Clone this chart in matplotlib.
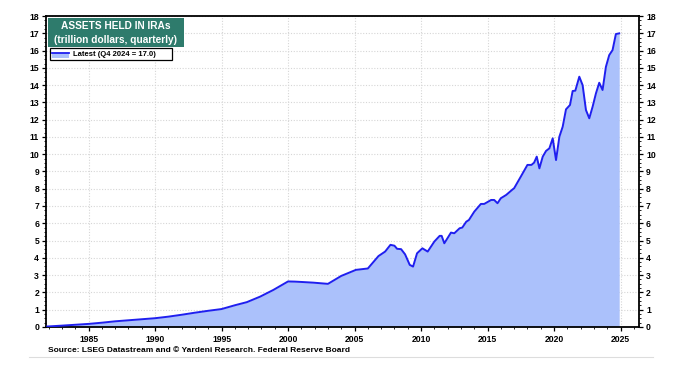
import matplotlib
matplotlib.use("Agg")
import matplotlib.pyplot as plt
from matplotlib.ticker import MultipleLocator
from matplotlib.lines import Line2D
from matplotlib.patches import Rectangle

# decimal year / trillion dollars
years = [
    1981.9, 1983.0, 1984.0, 1985.0, 1986.0, 1987.0, 1988.0, 1989.0, 1990.0,
    1991.0, 1992.0, 1993.0, 1994.0, 1995.0, 1996.0, 1996.9, 1997.9, 1998.9,
    2000.0, 2000.5, 2001.0, 2001.9, 2003.0, 2004.0, 2005.1, 2006.0, 2006.8,
    2007.3, 2007.7, 2008.0, 2008.2, 2008.5, 2008.8, 2009.15, 2009.4, 2009.7,
    2010.1, 2010.5, 2011.0, 2011.4, 2011.55, 2011.75, 2012.25, 2012.5, 2012.9,
    2013.1, 2013.4, 2013.6, 2014.0, 2014.5, 2014.75, 2015.27, 2015.5, 2015.75,
    2016.0, 2016.4, 2016.9, 2017.0, 2017.5, 2018.0, 2018.3, 2018.5, 2018.7,
    2018.9, 2019.15, 2019.4, 2019.65, 2019.9, 2020.15, 2020.4, 2020.65, 2020.9,
    2021.2, 2021.4, 2021.6, 2021.9, 2022.15, 2022.4, 2022.65, 2022.9, 2023.15,
    2023.4, 2023.65, 2023.9, 2024.15, 2024.4, 2024.65, 2024.9,
]
assets = [
    0.02, 0.07, 0.12, 0.17, 0.24, 0.32, 0.38, 0.44, 0.50,
    0.59, 0.70, 0.82, 0.93, 1.03, 1.25, 1.43, 1.75, 2.14,
    2.63, 2.62, 2.60, 2.56, 2.49, 2.95, 3.30, 3.38, 4.10,
    4.36, 4.75, 4.70, 4.52, 4.50, 4.20, 3.59, 3.49, 4.26,
    4.55, 4.36, 4.94, 5.27, 5.27, 4.84, 5.46, 5.42, 5.71,
    5.75, 6.09, 6.19, 6.67, 7.12, 7.12, 7.35, 7.35, 7.16,
    7.45, 7.64, 7.97, 8.03, 8.70, 9.38, 9.38, 9.51, 9.86,
    9.18, 9.86, 10.19, 10.34, 10.92, 9.66, 11.01, 11.59, 12.60,
    12.85, 13.66, 13.68, 14.49, 14.00, 12.56, 12.08, 12.75, 13.52,
    14.14, 13.72, 15.06, 15.74, 16.03, 16.96, 17.00,
]

LINE = "#1f1fef"
FILL = "#abc1fb"
TEAL = "#2e7b6c"
FONT = "Liberation Sans"

plt.rcParams["font.family"] = FONT

fig = plt.figure(figsize=(6.97, 3.66), dpi=100)
ax = fig.add_axes([0.066, 0.107, 0.851, 0.849])

ax.fill_between(years, assets, 0, color=FILL, lw=0, zorder=2)
ax.plot(years, assets, color=LINE, lw=1.4, zorder=3)

ax.set_xlim(1981.8, 2026.4)
ax.set_ylim(0, 18)
ax.xaxis.set_major_locator(MultipleLocator(5))
ax.xaxis.set_minor_locator(MultipleLocator(1))
ax.yaxis.set_major_locator(MultipleLocator(1))
ax.yaxis.set_minor_locator(MultipleLocator(0.25))
ax.grid(True, which="major", color="#d6d6d6", ls=(0, (1, 1.5)), lw=0.8, zorder=1)

ax.tick_params(axis="both", which="major", labelsize=6.2, width=0.9, length=3,
               direction="out", right=True, labelright=True, pad=2)
ax.tick_params(axis="both", which="minor", width=0.6, length=1.6,
               direction="out", right=True)
ax.tick_params(axis="x", pad=3)
for lab in ax.get_xticklabels():
    lab.set_fontweight("bold")
for t in ax.yaxis.get_major_ticks():
    t.label1.set_fontweight("bold")
    t.label2.set_fontweight("bold")
for s in ax.spines.values():
    s.set_linewidth(1.3)

# title box
ax.add_patch(Rectangle((0.0034, 0.899), 0.2296, 0.0955, transform=ax.transAxes,
                       fc=TEAL, ec="none", zorder=6))
ax.text(0.118, 0.968, "ASSETS HELD IN IRAs", transform=ax.transAxes,
        ha="center", va="center", color="white", fontsize=7.3,
        fontweight="bold", zorder=7)
ax.text(0.118, 0.923, "(trillion dollars, quarterly)", transform=ax.transAxes,
        ha="center", va="center", color="white", fontsize=7.3,
        fontweight="bold", zorder=7)

# legend box
ax.add_patch(Rectangle((0.0067, 0.859), 0.2058, 0.037, transform=ax.transAxes,
                       fc="white", ec="black", lw=0.9, zorder=6))
ax.add_patch(Rectangle((0.0105, 0.866), 0.0285, 0.015, transform=ax.transAxes,
                       fc=FILL, ec="none", zorder=7))
ax.add_line(Line2D([0.0105, 0.039], [0.880, 0.880], transform=ax.transAxes,
                   color=LINE, lw=1.3, zorder=8))
ax.text(0.0455, 0.8775, "Latest (Q4 2024 = 17.0)", transform=ax.transAxes,
        ha="left", va="center", fontsize=5.5, fontweight="bold", zorder=8)

fig.text(0.069, 0.043, "Source: LSEG Datastream and \u00a9 Yardeni Research. Federal Reserve Board",
         fontsize=6, fontweight="bold", ha="left", va="center")
fig.add_artist(Line2D([0.042, 0.937], [0.025, 0.025], color="#dddddd", lw=0.8))

fig.savefig("out.png", dpi=100)
